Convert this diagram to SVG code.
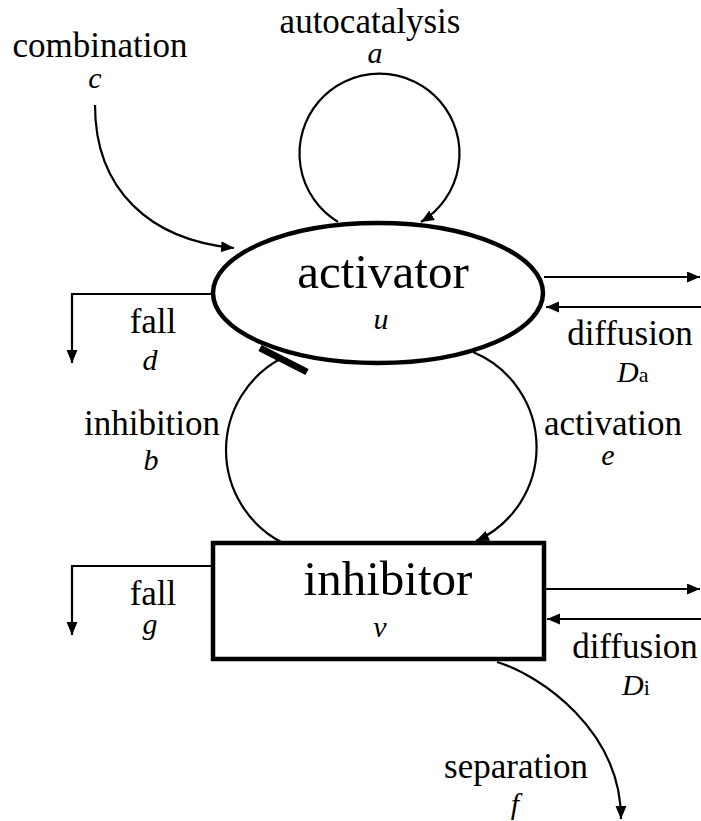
<svg xmlns="http://www.w3.org/2000/svg" width="701" height="821" viewBox="0 0 701 821">
<style>
text{font-family:'Liberation Serif','Times New Roman',Times,Tinos,'Noto Serif','DejaVu Serif',FreeSerif,serif;fill:#000;text-anchor:middle}
.lbl{font-size:35px}
.big{font-size:49px}
.var{font-size:30px;font-style:italic}
.sub{font-size:22px;font-style:normal}
.node{fill:#fff;stroke:#000;stroke-width:4.5}
.conn{fill:none;stroke:#000;stroke-width:2.2}
</style>
<defs>
<marker id="ah" markerUnits="userSpaceOnUse" markerWidth="14" markerHeight="12" refX="13" refY="5.5" orient="auto">
<path d="M0,0 L13,5.5 L0,11 z" fill="#000"/>
</marker>
</defs>
<g id="connectors">
<path class="conn" d="M95,105 C95,190 150,240 234,248" marker-end="url(#ah)"/>
<path class="conn" d="M338,222 A80,80 0 1 1 421,222" marker-end="url(#ah)"/>
<path class="conn" d="M283,543 A104,104 0 0 1 282,358"/>
<line x1="260" y1="348" x2="307" y2="372" stroke="#000" stroke-width="7"/>
<path class="conn" d="M473,352 A103,103 0 0 1 476,541" marker-end="url(#ah)"/>
<path class="conn" d="M213,294 H72 V363" marker-end="url(#ah)"/>
<path class="conn" d="M544,277 H700" marker-end="url(#ah)"/>
<path class="conn" d="M701,307 H546" marker-end="url(#ah)"/>
<path class="conn" d="M213,566 H72 V635" marker-end="url(#ah)"/>
<path class="conn" d="M545,589 H700" marker-end="url(#ah)"/>
<path class="conn" d="M701,619 H547" marker-end="url(#ah)"/>
<path class="conn" d="M497,662 C540,675 621,730 621,819" marker-end="url(#ah)"/>
</g>
<g id="activator">
<ellipse class="node" cx="378" cy="293" rx="165" ry="70"/>
<text class="big" x="383" y="288">activator</text>
<text class="var" x="381" y="329">u</text>
</g>
<g id="inhibitor">
<rect class="node" x="213" y="543" width="331" height="116"/>
<text class="big" x="388" y="595">inhibitor</text>
<text class="var" x="380" y="637">v</text>
</g>
<g id="labels">
<text class="lbl" x="100" y="57">combination</text>
<text class="var" x="95" y="88">c</text>
<text class="lbl" x="370" y="33">autocatalysis</text>
<text class="var" x="375" y="63">a</text>
<text class="lbl" x="153" y="333">fall</text>
<text class="var" x="150" y="370">d</text>
<text class="lbl" x="630" y="345">diffusion</text>
<text class="var" x="617" y="382" style="text-anchor:start">D<tspan class="sub">a</tspan></text>
<text class="lbl" x="152" y="435">inhibition</text>
<text class="var" x="151" y="470">b</text>
<text class="lbl" x="613" y="435">activation</text>
<text class="var" x="608" y="465">e</text>
<text class="lbl" x="153" y="605">fall</text>
<text class="var" x="150" y="634">g</text>
<text class="lbl" x="635" y="658">diffusion</text>
<text class="var" x="622" y="695" style="text-anchor:start">D<tspan class="sub">i</tspan></text>
<text class="lbl" x="516" y="778">separation</text>
<text class="var" x="515" y="814">f</text>
</g>
</svg>
